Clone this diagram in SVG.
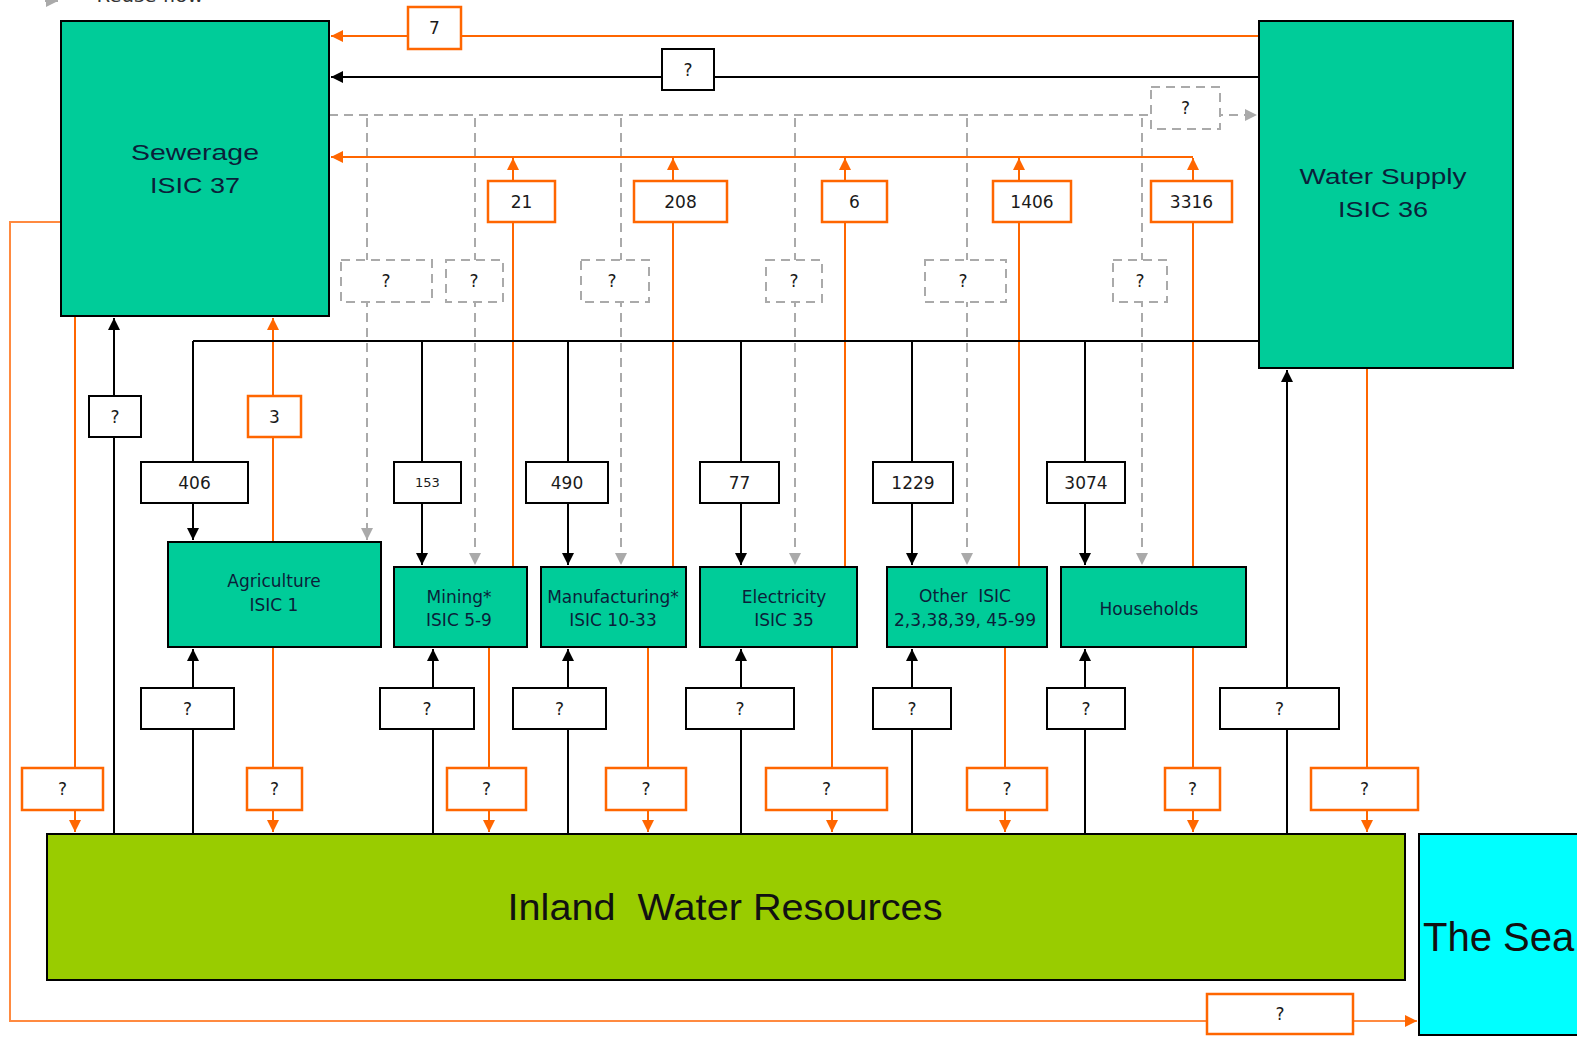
<svg xmlns="http://www.w3.org/2000/svg" width="1577" height="1037" viewBox="0 0 1577 1037">
<defs>
<style>
.node{fill:#00CC99;stroke:#000;stroke-width:2}
.big{font-family:"Liberation Sans",Arial,sans-serif;font-size:22px;fill:#0b1f3a;text-anchor:middle}
.sm{font-family:"DejaVu Sans",Verdana,sans-serif;font-size:17px;fill:#0b1f3a;text-anchor:middle}
.lb{font-family:"DejaVu Sans",Verdana,sans-serif;font-size:17px;fill:#1a1a1a;text-anchor:middle}
.o{fill:none;stroke:#FF6600;stroke-width:2}
.k{fill:none;stroke:#000;stroke-width:2}
.g{fill:none;stroke:#AAAAAA;stroke-width:2;stroke-dasharray:9 6}
.bo{fill:#fff;stroke:#FF6600;stroke-width:2.5}
.bk{fill:#fff;stroke:#000;stroke-width:2}
.bg{fill:#fff;stroke:#AAAAAA;stroke-width:2;stroke-dasharray:9 6}
</style>
<marker id="ao" viewBox="0 0 10 10" refX="10" refY="5" markerWidth="12" markerHeight="12" markerUnits="userSpaceOnUse" orient="auto"><path d="M0,0 L10,5 L0,10 z" fill="#FF6600"/></marker>
<marker id="ak" viewBox="0 0 10 10" refX="10" refY="5" markerWidth="12" markerHeight="12" markerUnits="userSpaceOnUse" orient="auto"><path d="M0,0 L10,5 L0,10 z" fill="#000"/></marker>
<marker id="ag" viewBox="0 0 10 10" refX="10" refY="5" markerWidth="12" markerHeight="12" markerUnits="userSpaceOnUse" orient="auto"><path d="M0,0 L10,5 L0,10 z" fill="#AAAAAA"/></marker>
</defs>
<rect width="1577" height="1037" fill="#fff"/>

<g id="legend">
<path d="M45,1 H58" stroke="#AAAAAA" stroke-width="2" marker-end="url(#ag)"/>
<text x="150" y="2" class="sm" style="fill:#333" textLength="107" lengthAdjust="spacingAndGlyphs">Reuse flow</text>
</g>

<g id="connectors">
<!-- top flows water supply -> sewerage -->
<path class="o" d="M1259,36 H331" marker-end="url(#ao)"/>
<path class="k" d="M1259,77 H331" marker-end="url(#ak)"/>
<!-- reuse -->
<path class="g" d="M329,115 H1257" marker-end="url(#ag)"/>
<path class="g" d="M367,118 V540" marker-end="url(#ag)"/>
<path class="g" d="M475,118 V565" marker-end="url(#ag)"/>
<path class="g" d="M621,118 V565" marker-end="url(#ag)"/>
<path class="g" d="M795,118 V565" marker-end="url(#ag)"/>
<path class="g" d="M967,118 V565" marker-end="url(#ag)"/>
<path class="g" d="M1142,118 V565" marker-end="url(#ag)"/>
<!-- wastewater to sewerage -->
<path class="o" d="M1193,157 H331" marker-end="url(#ao)"/>
<path class="o" d="M513,566 V158" marker-end="url(#ao)"/>
<path class="o" d="M673,566 V158" marker-end="url(#ao)"/>
<path class="o" d="M845,566 V158" marker-end="url(#ao)"/>
<path class="o" d="M1019,566 V158" marker-end="url(#ao)"/>
<path class="o" d="M1193,566 V158" marker-end="url(#ao)"/>
<path class="o" d="M273,541 V318" marker-end="url(#ao)"/>
<!-- distribution from water supply -->
<path class="k" d="M1259,341 H193"/>
<path class="k" d="M193,341 V540" marker-end="url(#ak)"/>
<path class="k" d="M422,341 V565" marker-end="url(#ak)"/>
<path class="k" d="M568,341 V565" marker-end="url(#ak)"/>
<path class="k" d="M741,341 V565" marker-end="url(#ak)"/>
<path class="k" d="M912,341 V565" marker-end="url(#ak)"/>
<path class="k" d="M1085,341 V565" marker-end="url(#ak)"/>
<!-- abstraction from inland water -->
<path class="k" d="M114,834 V318" marker-end="url(#ak)"/>
<path class="k" d="M193,834 V649" marker-end="url(#ak)"/>
<path class="k" d="M433,834 V649" marker-end="url(#ak)"/>
<path class="k" d="M568,834 V649" marker-end="url(#ak)"/>
<path class="k" d="M741,834 V649" marker-end="url(#ak)"/>
<path class="k" d="M912,834 V649" marker-end="url(#ak)"/>
<path class="k" d="M1085,834 V649" marker-end="url(#ak)"/>
<path class="k" d="M1287,834 V370" marker-end="url(#ak)"/>
<!-- returns to inland water -->
<path class="o" d="M75,316 V832" marker-end="url(#ao)"/>
<path class="o" d="M273,647 V832" marker-end="url(#ao)"/>
<path class="o" d="M489,647 V832" marker-end="url(#ao)"/>
<path class="o" d="M648,647 V832" marker-end="url(#ao)"/>
<path class="o" d="M832,647 V832" marker-end="url(#ao)"/>
<path class="o" d="M1005,647 V832" marker-end="url(#ao)"/>
<path class="o" d="M1193,647 V832" marker-end="url(#ao)"/>
<path class="o" d="M1367,368 V832" marker-end="url(#ao)"/>
<!-- sewerage to sea -->
<path class="o" d="M61,222 H10 V1021 H1417" marker-end="url(#ao)" style="stroke:#FF8A40"/>
</g>

<g id="labels">
<g id="l-ws-sew-o"><rect class="bo" x="408" y="7" width="53" height="42"/><text class="lb" x="434.5" y="34">7</text></g>
<g id="l-ws-sew-k"><rect class="bk" x="662" y="49" width="52" height="41"/><text class="lb" x="688" y="76">?</text></g>
<g id="l-reuse-ws"><rect class="bg" x="1151" y="87" width="69" height="42"/><text class="lb" x="1185.5" y="114">?</text></g>
<g id="l-r1"><rect class="bg" x="341" y="260" width="91" height="42"/><text class="lb" x="386" y="287">?</text></g>
<g id="l-r2"><rect class="bg" x="446" y="260" width="57" height="42"/><text class="lb" x="474" y="287">?</text></g>
<g id="l-r3"><rect class="bg" x="581" y="260" width="68" height="42"/><text class="lb" x="612" y="287">?</text></g>
<g id="l-r4"><rect class="bg" x="766" y="260" width="56" height="42"/><text class="lb" x="794" y="287">?</text></g>
<g id="l-r5"><rect class="bg" x="925" y="260" width="81" height="42"/><text class="lb" x="963" y="287">?</text></g>
<g id="l-r6"><rect class="bg" x="1113" y="260" width="54" height="42"/><text class="lb" x="1140" y="287">?</text></g>
<g id="l-w1"><rect class="bo" x="488" y="181" width="67" height="41"/><text class="lb" x="521.5" y="208">21</text></g>
<g id="l-w2"><rect class="bo" x="634" y="181" width="93" height="41"/><text class="lb" x="680.5" y="208">208</text></g>
<g id="l-w3"><rect class="bo" x="822" y="181" width="65" height="41"/><text class="lb" x="854.5" y="208">6</text></g>
<g id="l-w4"><rect class="bo" x="993" y="181" width="78" height="41"/><text class="lb" x="1032" y="208">1406</text></g>
<g id="l-w5"><rect class="bo" x="1151" y="181" width="81" height="41"/><text class="lb" x="1191.5" y="208">3316</text></g>
<g id="l-w0"><rect class="bo" x="248" y="396" width="53" height="41"/><text class="lb" x="274.5" y="423">3</text></g>
<g id="l-sewab"><rect class="bk" x="89" y="396" width="52" height="41"/><text class="lb" x="115" y="423">?</text></g>
<g id="l-d1"><rect class="bk" x="141" y="462" width="107" height="41"/><text class="lb" x="194.5" y="489">406</text></g>
<g id="l-d2"><rect class="bk" x="394" y="462" width="67" height="41"/><text class="lb" x="427.5" y="487" style="font-size:13px">153</text></g>
<g id="l-d3"><rect class="bk" x="526" y="462" width="82" height="41"/><text class="lb" x="567" y="489">490</text></g>
<g id="l-d4"><rect class="bk" x="700" y="462" width="79" height="41"/><text class="lb" x="739.5" y="489">77</text></g>
<g id="l-d5"><rect class="bk" x="873" y="462" width="80" height="41"/><text class="lb" x="913" y="489">1229</text></g>
<g id="l-d6"><rect class="bk" x="1047" y="462" width="78" height="41"/><text class="lb" x="1086" y="489">3074</text></g>
<g id="l-a1"><rect class="bk" x="141" y="688" width="93" height="41"/><text class="lb" x="187.5" y="715">?</text></g>
<g id="l-a2"><rect class="bk" x="380" y="688" width="94" height="41"/><text class="lb" x="427" y="715">?</text></g>
<g id="l-a3"><rect class="bk" x="513" y="688" width="93" height="41"/><text class="lb" x="559.5" y="715">?</text></g>
<g id="l-a4"><rect class="bk" x="686" y="688" width="108" height="41"/><text class="lb" x="740" y="715">?</text></g>
<g id="l-a5"><rect class="bk" x="873" y="688" width="78" height="41"/><text class="lb" x="912" y="715">?</text></g>
<g id="l-a6"><rect class="bk" x="1047" y="688" width="78" height="41"/><text class="lb" x="1086" y="715">?</text></g>
<g id="l-a7"><rect class="bk" x="1220" y="688" width="119" height="41"/><text class="lb" x="1279.5" y="715">?</text></g>
<g id="l-e0"><rect class="bo" x="22" y="768" width="81" height="42"/><text class="lb" x="62.5" y="795">?</text></g>
<g id="l-e1"><rect class="bo" x="247" y="768" width="55" height="42"/><text class="lb" x="274.5" y="795">?</text></g>
<g id="l-e2"><rect class="bo" x="447" y="768" width="79" height="42"/><text class="lb" x="486.5" y="795">?</text></g>
<g id="l-e3"><rect class="bo" x="606" y="768" width="80" height="42"/><text class="lb" x="646" y="795">?</text></g>
<g id="l-e4"><rect class="bo" x="766" y="768" width="121" height="42"/><text class="lb" x="826.5" y="795">?</text></g>
<g id="l-e5"><rect class="bo" x="967" y="768" width="80" height="42"/><text class="lb" x="1007" y="795">?</text></g>
<g id="l-e6"><rect class="bo" x="1165" y="768" width="55" height="42"/><text class="lb" x="1192.5" y="795">?</text></g>
<g id="l-e7"><rect class="bo" x="1311" y="768" width="107" height="42"/><text class="lb" x="1364.5" y="795">?</text></g>
<g id="l-sea"><rect class="bo" x="1207" y="994" width="146" height="40"/><text class="lb" x="1280" y="1020">?</text></g>
</g>

<g id="sewerage"><rect class="node" x="61" y="21" width="268" height="295"/>
<text class="big" x="195" y="160" textLength="128" lengthAdjust="spacingAndGlyphs">Sewerage</text>
<text class="big" x="195" y="193" textLength="90" lengthAdjust="spacingAndGlyphs">ISIC 37</text></g>
<g id="water-supply"><rect class="node" x="1259" y="21" width="254" height="347"/>
<text class="big" x="1383" y="184" textLength="167" lengthAdjust="spacingAndGlyphs">Water Supply</text>
<text class="big" x="1383" y="217" textLength="90" lengthAdjust="spacingAndGlyphs">ISIC 36</text></g>
<g id="agriculture"><rect class="node" x="168" y="542" width="213" height="105"/>
<text class="sm" x="274" y="587">Agriculture</text><text class="sm" x="274" y="611">ISIC 1</text></g>
<g id="mining"><rect class="node" x="394" y="567" width="133" height="80"/>
<text class="sm" x="459" y="603">Mining*</text><text class="sm" x="459" y="626">ISIC 5-9</text></g>
<g id="manufacturing"><rect class="node" x="541" y="567" width="145" height="80"/>
<text class="sm" x="613" y="603">Manufacturing*</text><text class="sm" x="613" y="626">ISIC 10-33</text></g>
<g id="electricity"><rect class="node" x="700" y="567" width="157" height="80"/>
<text class="sm" x="784" y="603">Electricity</text><text class="sm" x="784" y="626">ISIC 35</text></g>
<g id="other"><rect class="node" x="887" y="567" width="160" height="80"/>
<text class="sm" x="965" y="602" xml:space="preserve">Other  ISIC</text><text class="sm" x="965" y="626" textLength="142" lengthAdjust="spacingAndGlyphs">2,3,38,39, 45-99</text></g>
<g id="households"><rect class="node" x="1061" y="567" width="185" height="80"/>
<text class="sm" x="1149" y="615">Households</text></g>
<g id="inland"><rect x="47" y="834" width="1358" height="146" fill="#99CC00" stroke="#000" stroke-width="2"/>
<text class="big" x="725" y="920" style="font-size:36px;fill:#111" textLength="435" lengthAdjust="spacingAndGlyphs" xml:space="preserve">Inland  Water Resources</text></g>
<g id="sea"><rect x="1419" y="834" width="165" height="201" fill="#00FFFF" stroke="#000" stroke-width="2"/>
<text x="1423" y="951" style="font-family:'Liberation Sans',Arial,sans-serif;font-size:40px;fill:#111">The Sea</text></g>
</svg>
